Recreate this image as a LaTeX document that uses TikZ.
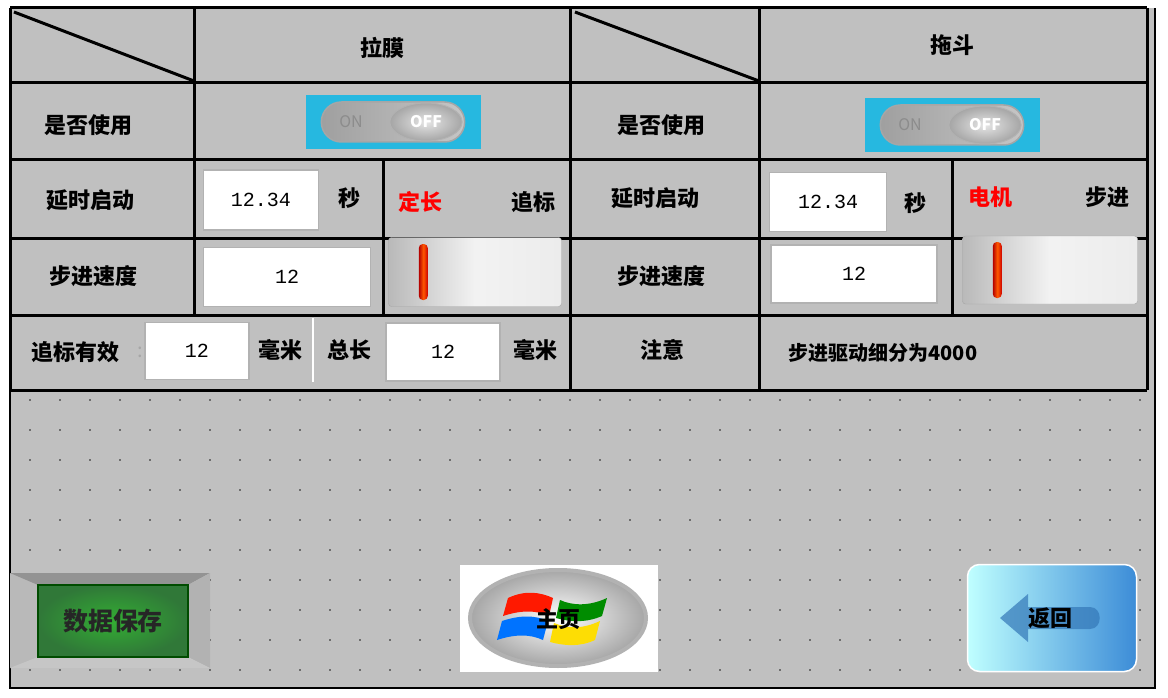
\documentclass[tikz,border=0pt]{standalone}
\usepackage{fontspec}
\setmainfont{Noto Sans CJK SC}
\newfontfamily\numfont{Liberation Mono}
\usetikzlibrary{positioning,shapes,calc}

\definecolor{panel}{RGB}{192,192,192}
\definecolor{switchblue}{RGB}{38,184,224}
\definecolor{btngreen}{RGB}{60,150,70}
\definecolor{btnblue}{RGB}{60,140,215}

\tikzset{
  lbl/.style={font=\fontsize{22}{26}\selectfont\bfseries},
  redlbl/.style={lbl, text=red},
  entry/.style={draw=gray!60, line width=1.5, fill=white, inner sep=0pt,
    font=\fontsize{20}{24}\numfont},
  grid line/.style={line width=3, black},
  slider/.style={draw=gray!70, rounded corners=3, left color=gray!55, right color=gray!15,
    middle color=gray!10, inner sep=0pt},
}

\begin{document}
\begin{tikzpicture}[x=1pt, y=-1pt]
  \useasboundingbox (0,0) rectangle (1168,698);
  \fill[white] (0,0) rectangle (1168,698);
  % panel
  \fill[panel] (10,8) rectangle (1155,688);
  \draw[line width=1.5] (10,8) -- (10,688) -- (1155,688) -- (1155,8);
  % dot grid
  \foreach \x in {30,60,...,1140} {
    \foreach \y in {400,430,...,680} {
      \fill[gray!20!black] (\x,\y) circle (0.8);
    };
  };

  % table lines
  \foreach \y in {8,83,160,238,315,390} {
    \draw[grid line] (10,\y) -- (1147,\y);
  };
  \foreach \x in {10,570,759,1147} {
    \draw[grid line] (\x,8) -- (\x,390);
  };
  \draw[grid line] (194,8) -- (194,315);
  \draw[grid line] (383,160) -- (383,315);
  \draw[grid line] (952,160) -- (952,315);
  \draw[white, line width=2] (313,318) -- (313,382);
  \draw[grid line] (14,12) -- (194,81);
  \draw[grid line] (575,12) -- (759,81);

  % header
  \node[lbl] (film) at (382,48) {拉膜};
  \node[lbl] (hopper) at (952,45) {拖斗};

  % row: use
  \node[lbl] (useA) at (88,125) {是否使用};
  \node[lbl] (useB) at (661,125) {是否使用};
  \foreach \n/\cx/\cy in {swA/393/122, swB/952/125} {
    \fill[switchblue] (\cx-87,\cy-27) rectangle (\cx+88,\cy+27);
    \node[draw=gray!70, line width=1.5, rounded rectangle, minimum width=150, minimum height=40,
      left color=gray!75, right color=gray!45] (\n) at (\cx,\cy) {};
    \node[font=\fontsize{16}{18}\selectfont, text=gray!90] at (\cx-42,\cy) {ON};
    \node[circle, draw=gray!60, line width=1, inner sep=0pt, minimum width=38,
      shade, inner color=gray!20, outer color=gray!70, xscale=1.9] (\n-knob) at (\cx+33,\cy) {};
    \node[font=\fontsize{16}{18}\selectfont\bfseries, text=white] at (\cx+33,\cy) {OFF};
  };

  % row: delay
  \node[lbl] (delayA) at (90,200) {延时启动};
  \node[entry, minimum width=115, minimum height=60] (delayA-val) at (261,200) {12.34};
  \node[lbl] (secA) at (349,198) {秒};
  \node[redlbl] (fixA) at (420,202) {定长};
  \node[lbl] (trackA) at (533,202) {追标};
  \node[lbl] (delayB) at (655,198) {延时启动};
  \node[entry, minimum width=117, minimum height=59] (delayB-val) at (828,202) {12.34};
  \node[lbl] (secB) at (915,203) {秒};
  \node[redlbl] (motorB) at (990,197) {电机};
  \node[lbl] (stepB) at (1107,197) {步进};

  % row: speed
  \node[lbl] (speedA) at (93,276) {步进速度};
  \node[entry, minimum width=167, minimum height=59] (speedA-val) at (287,277) {12};
  \node[lbl] (speedB) at (661,276) {步进速度};
  \node[entry, minimum width=166, minimum height=58] (speedB-val) at (854,274) {12};
  \node[slider, minimum width=173, minimum height=69] (sliderA) at (475,272) {};
  \node[slider, minimum width=175, minimum height=68] (sliderB) at (1050,270) {};
  \node[rounded corners=4, inner sep=0pt, minimum width=9, minimum height=56,
    left color=red!70!black, right color=red!80!black, middle color=orange!70!red] at ($(sliderA.west)+(35,0)$) {};
  \node[rounded corners=4, inner sep=0pt, minimum width=9, minimum height=56,
    left color=red!70!black, right color=red!80!black, middle color=orange!70!red] at ($(sliderB.west)+(35,0)$) {};

  % row: track / note
  \node[lbl] (validA) at (75,352) {追标有效};
  \node[text=gray!70, font=\fontsize{20}{24}\selectfont] at (140,352) {:};
  \node[entry, minimum width=104, minimum height=57] (validA-val) at (197,351) {12};
  \node[lbl] (mmA) at (280,350) {毫米};
  \node[lbl] (totalA) at (349,350) {总长};
  \node[entry, minimum width=114, minimum height=58] (totalA-val) at (443,352) {12};
  \node[lbl] (mmB) at (535,350) {毫米};
  \node[lbl] (noteB) at (662,350) {注意};
  \node[lbl, font=\fontsize{20}{24}\selectfont\bfseries, anchor=west] (noteB-text) at (785,353) {步进驱动细分为4000};

  % save button
  \fill[gray!55] (10,573) -- (38,585) -- (38,657) -- (10,668) -- cycle;
  \fill[gray!85] (10,573) -- (210,573) -- (188,585) -- (38,585) -- cycle;
  \fill[gray!60] (210,573) -- (210,668) -- (188,657) -- (188,585) -- cycle;
  \fill[gray!45] (10,668) -- (210,668) -- (188,657) -- (38,657) -- cycle;
  \node[draw=green!30!black, line width=1.5, inner color=green!60!black!80, outer color=btngreen!80!black,
    minimum width=150, minimum height=72, font=\fontsize{25}{28}\selectfont\bfseries, text=black!85] (save) at (113,621) {数据保存};

  % home button
  \fill[white] (460,565) rectangle (658,672);
  \node[ellipse, draw=gray!60, line width=4, inner color=white, outer color=gray!70,
    minimum width=176, minimum height=96] (homeRing) at (558,618) {};
  \fill[red!80!orange] (508,598) .. controls (525,590) and (540,592) .. (553,598) -- (549,616) .. controls (536,610) and (521,610) .. (503,616) -- cycle;
  \fill[green!55!black] (560,600) .. controls (573,606) and (590,606) .. (607,598) -- (602,616) .. controls (586,623) and (570,622) .. (556,618) -- cycle;
  \fill[blue!55!cyan] (502,621) .. controls (520,615) and (535,615) .. (548,621) -- (543,640) .. controls (530,634) and (515,634) .. (497,640) -- cycle;
  \fill[yellow!80!orange] (554,623) .. controls (568,629) and (583,629) .. (600,621) -- (595,640) .. controls (580,647) and (565,646) .. (550,642) -- cycle;
  \node[font=\fontsize{22}{24}\selectfont\bfseries] (home) at (558,619) {主页};

  % back button
  \node[rounded corners=12, draw=white, line width=1.5, left color=cyan!25, right color=btnblue,
    minimum width=169, minimum height=107] (backBtn) at (1052,618) {};
  \fill[btnblue!85!black, opacity=0.7] (1000,618) -- (1028,594) -- (1028,607) -- (1090,607)
    .. controls (1103,607) and (1103,629) .. (1090,629) -- (1028,629) -- (1028,642) -- cycle;
  \node[font=\fontsize{22}{24}\selectfont\bfseries] (back) at (1050,618) {返回};
\end{tikzpicture}
\end{document}
